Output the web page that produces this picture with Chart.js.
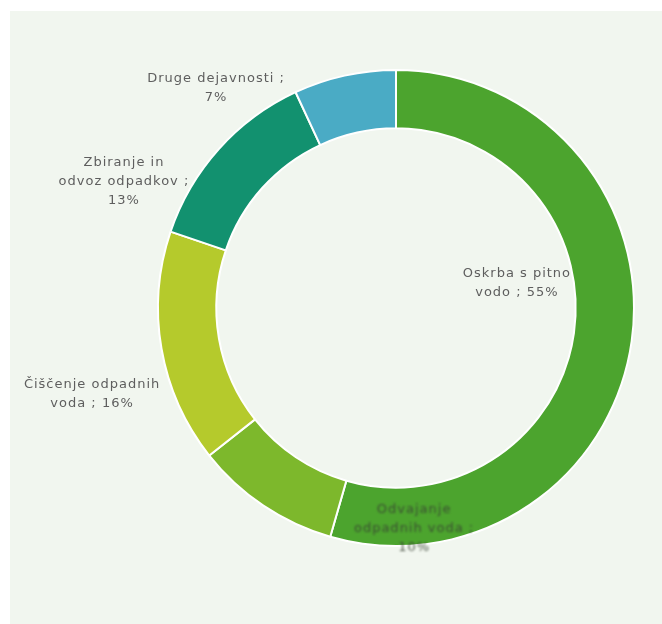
<!DOCTYPE html>
<html>
<head>
<meta charset="utf-8">
<script src="https://cdn.jsdelivr.net/npm/chart.js@4"></script>
<style>
  html, body { margin: 0; padding: 0; background: #ffffff; }
  #wrap { position: relative; width: 662px; height: 624px; overflow: hidden; }
  #panel { position: absolute; left: 10px; top: 11px; right: 0; bottom: 0; background: #f1f6ef; }
  #chart { position: absolute; left: 0; top: 0; }
</style>
</head>
<body>
<div id="wrap">
  <div id="panel"></div>
  <canvas id="chart" width="662" height="624"></canvas>
</div>
<script>
// podatki (delež v %)
const categories = [
  ["Oskrba s pitno", "vodo"],
  ["Odvajanje", "odpadnih voda"],
  ["Čiščenje odpadnih", "voda"],
  ["Zbiranje in", "odvoz odpadkov"],
  ["Druge dejavnosti"]
];
const shares = [55, 10, 16, 13, 7];
const colors = ["#4ca42e", "#7db82c", "#b5ca2c", "#12916f", "#4aabc5"];

// label placement, relative to center, in units of outer radius
const labelLayout = [
  { dx: 0.508, dy: -0.105, newLine: false },
  { dx: 0.076, dy: 0.928, newLine: true, blur: true },
  { dx: -1.277, dy: 0.361, newLine: false },
  { dx: -1.143, dy: -0.533, newLine: true },
  { dx: -0.756, dy: -0.925, newLine: true }
];

const dataLabels = {
  id: "dataLabels",
  afterDatasetsDraw(chart) {
    const ctx = chart.ctx;
    const arcs = chart.getDatasetMeta(0).data;
    ctx.save();
    ctx.font = "13px 'DejaVu Sans'";
    ctx.letterSpacing = "1px";
    ctx.textAlign = "center";
    ctx.textBaseline = "middle";
    arcs.forEach((arc, i) => {
      const lay = labelLayout[i];
      const lines = categories[i].slice();
      const val = shares[i] + "%";
      if (lay.newLine) {
        lines[lines.length - 1] += " ;";
        lines.push(val);
      } else {
        lines[lines.length - 1] += " ; " + val;
      }
      const cx = arc.x + lay.dx * arc.outerRadius;
      const cy = arc.y + lay.dy * arc.outerRadius;
      const lh = 19;
      ctx.filter = lay.blur ? "blur(1.2px)" : "none";
      ctx.fillStyle = lay.blur ? "rgba(55,65,50,0.85)" : "#5e5e5e";
      lines.forEach((t, k) => {
        ctx.fillText(t, cx, cy + (k - (lines.length - 1) / 2) * lh);
      });
    });
    ctx.restore();
  }
};

new Chart(document.getElementById("chart"), {
  type: "doughnut",
  data: {
    labels: categories,
    datasets: [{
      data: shares,
      backgroundColor: colors,
      borderColor: "#ffffff",
      borderWidth: 2
    }]
  },
  options: {
    responsive: false,
    animation: false,
    cutout: "75.5%",
    layout: { padding: { left: 157, right: 27, top: 69, bottom: 77 } },
    plugins: {
      legend: { display: false },
      tooltip: { enabled: false }
    }
  },
  plugins: [dataLabels]
});
</script>
</body>
</html>
